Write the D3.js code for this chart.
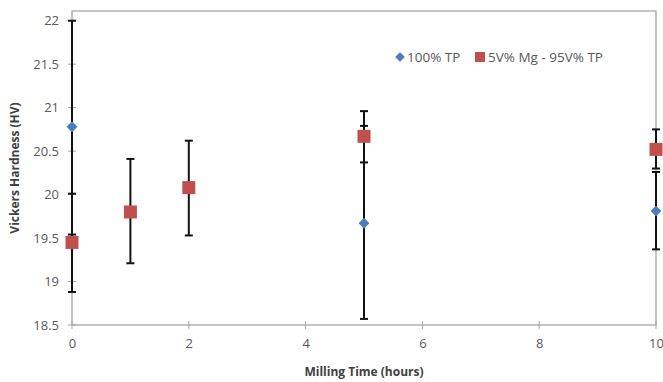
<!DOCTYPE html>
<html><head><meta charset="utf-8">
<script src="https://cdn.jsdelivr.net/npm/d3@7"></script>
<style>body{margin:0;background:#fff}svg{display:block}text{font-family:"Open Sans","Liberation Sans",sans-serif}</style>
</head><body><svg id="c" width="663" height="382"></svg>
<script>
const xTicks = [0, 2, 4, 6, 8, 10];
const yTicks = [18.5, 19, 19.5, 20, 20.5, 21, 21.5, 22];
const tpTime = [0, 5, 10];
const tpValue = [20.78, 19.67, 19.81];
const tpLow = [19.54, 18.57, 19.37];
const tpHigh = [22.0, 20.79, 20.26];
const mgTime = [0, 1, 2, 5, 10];
const mgValue = [19.45, 19.80, 20.08, 20.67, 20.52];
const mgLow = [18.88, 19.21, 19.53, 20.37, 20.30];
const mgHigh = [20.01, 20.41, 20.62, 20.96, 20.75];
const seriesNames = ["100% TP", "5V% Mg - 95V% TP"];

const svg = d3.select("#c");
const L = 72, R = 656, T = 11, B = 325;
const x = d3.scaleLinear().domain([0, 10]).range([L, R]);
const y = d3.scaleLinear().domain([18.5, 22]).range([B, 20.7]);
const axisCol = "#a6a6a6", txtCol = "#595959";

svg.append("rect").attr("x", L).attr("y", T).attr("width", R - L).attr("height", B - T)
  .attr("fill", "none").attr("stroke", axisCol).attr("stroke-width", 1.3);

const ya = svg.append("g").attr("transform", `translate(${L},0)`)
  .call(d3.axisLeft(y).tickValues(yTicks).tickSize(0).tickPadding(13).tickFormat(d3.format("")));
ya.select(".domain").remove();
ya.selectAll("text").attr("fill", txtCol).attr("font-size", 13);
svg.append("g").selectAll("line").data(yTicks).join("line")
  .attr("x1", L - 4).attr("x2", L + 4).attr("y1", d => y(d)).attr("y2", d => y(d))
  .attr("stroke", axisCol).attr("stroke-width", 1);

const xa = svg.append("g").attr("transform", `translate(0,${B})`)
  .call(d3.axisBottom(x).tickValues(xTicks).tickSize(0).tickPadding(14));
xa.select(".domain").remove();
xa.selectAll("text").attr("fill", txtCol).attr("font-size", 13);
svg.append("g").selectAll("line").data(xTicks).join("line")
  .attr("x1", d => x(d)).attr("x2", d => x(d)).attr("y1", B - 4).attr("y2", B + 4)
  .attr("stroke", axisCol).attr("stroke-width", 1);

svg.append("text").attr("x", (L + R) / 2).attr("y", 376).attr("text-anchor", "middle")
  .attr("font-size", 12).attr("font-weight", "bold").attr("fill", "#404040").text("Milling Time (hours)");
svg.append("text").attr("transform", `translate(19,${(T + B) / 2}) rotate(-90)`).attr("text-anchor", "middle")
  .attr("font-size", 12).attr("font-weight", "bold").attr("fill", "#404040").text("Vickers Hardness (HV)");

function errBars(times, lows, highs) {
  const g = svg.append("g").attr("stroke", "#111").attr("stroke-width", 2);
  times.forEach((t, i) => {
    g.append("line").attr("x1", x(t)).attr("x2", x(t)).attr("y1", y(lows[i])).attr("y2", y(highs[i]));
    [lows[i], highs[i]].forEach(v => g.append("line").attr("x1", x(t) - 4).attr("x2", x(t) + 4)
      .attr("y1", y(v)).attr("y2", y(v)));
  });
}
errBars(tpTime, tpLow, tpHigh);
errBars(mgTime, mgLow, mgHigh);

const blue = "#4a7ebb", red = "#c0504d";
svg.append("g").selectAll("path").data(tpTime).join("path")
  .attr("d", d3.symbol(d3.symbolDiamond2, 75)())
  .attr("transform", (d, i) => `translate(${x(d)},${y(tpValue[i])})`).attr("fill", blue);
svg.append("g").selectAll("rect").data(mgTime).join("rect")
  .attr("x", d => x(d) - 6.5).attr("y", (d, i) => y(mgValue[i]) - 6.5)
  .attr("width", 13).attr("height", 13).attr("fill", red);

const lg = svg.append("g");
lg.append("path").attr("d", d3.symbol(d3.symbolDiamond2, 60)()).attr("transform", "translate(400,57)").attr("fill", blue);
lg.append("text").attr("x", 407).attr("y", 62).attr("font-size", 13.5).attr("fill", txtCol).text(seriesNames[0]);
lg.append("rect").attr("x", 475).attr("y", 52).attr("width", 10).attr("height", 10).attr("fill", red);
lg.append("text").attr("x", 488).attr("y", 62).attr("font-size", 13.5).attr("fill", txtCol).text(seriesNames[1]);
</script></body></html>
